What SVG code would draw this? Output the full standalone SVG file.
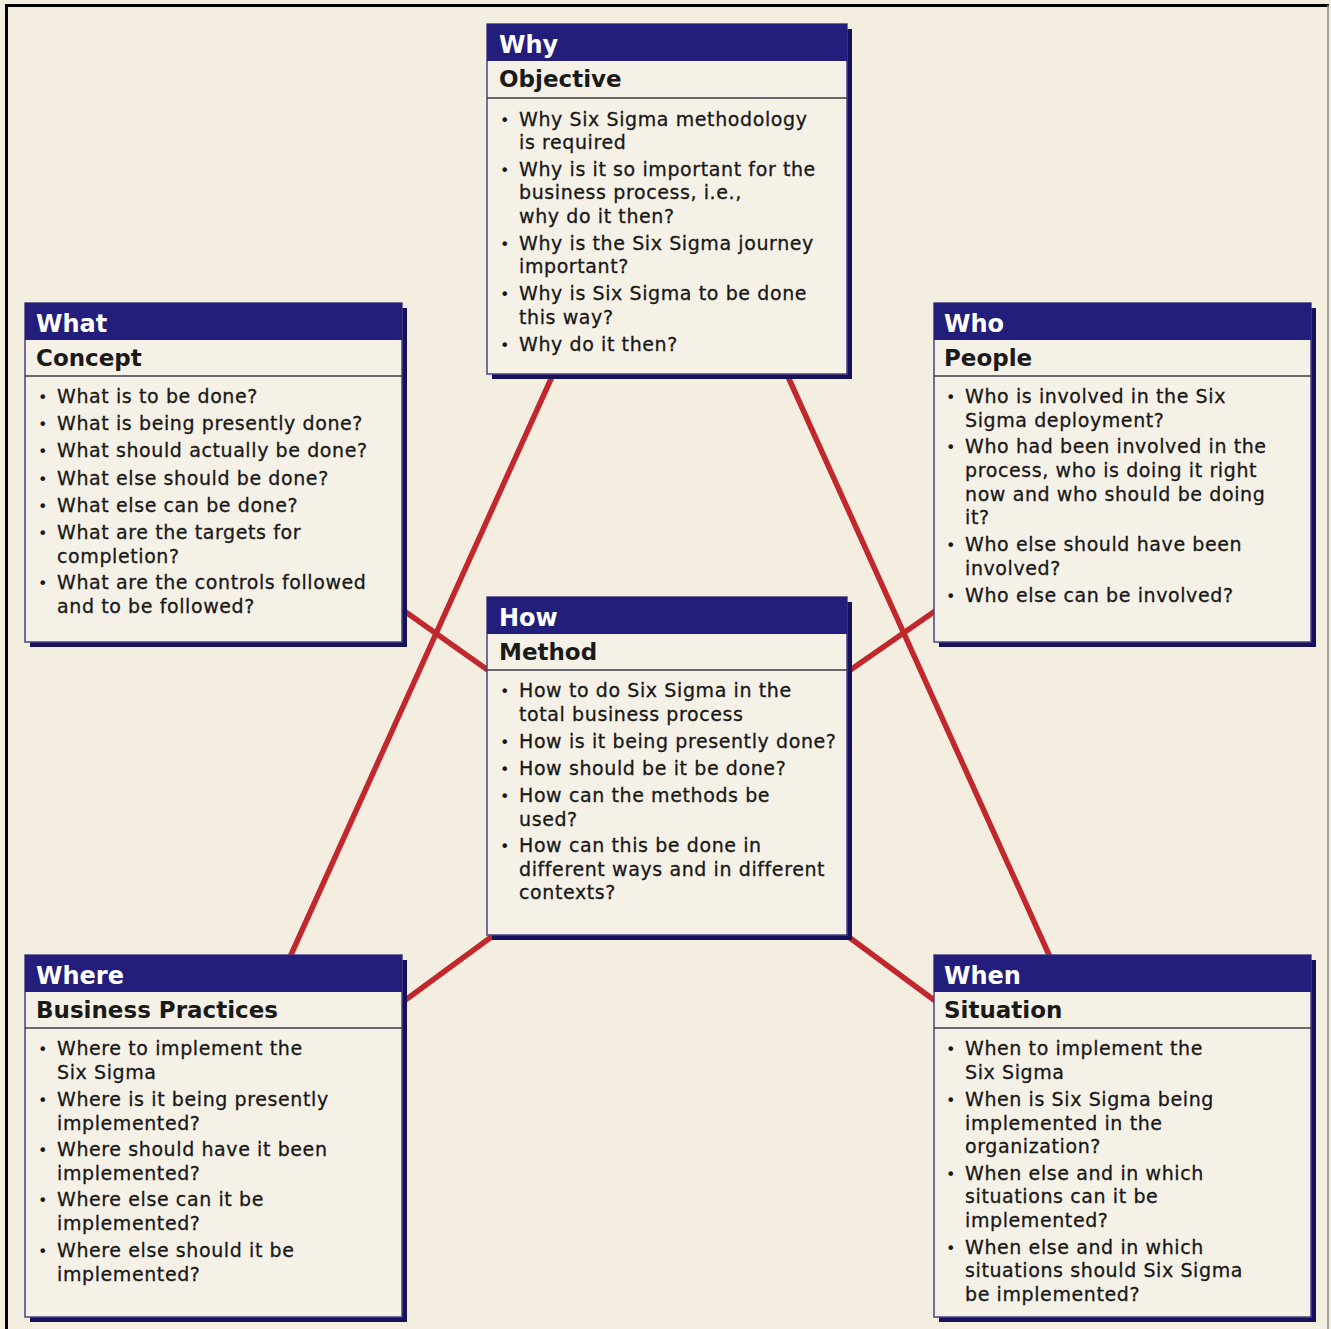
<svg xmlns="http://www.w3.org/2000/svg" width="1331" height="1329" viewBox="0 0 1331 1329">
<style>
.bg{fill:#f4eee1}
.shadow{fill:#15115a}
.box{fill:#f6f1e6;stroke:#4a4282;stroke-width:1.5}
.hdr{fill:#231d7c}
.sep{stroke:#3a3a48;stroke-width:1.5}
.h1{font-family:"DejaVu Sans",Verdana,sans-serif;font-weight:bold;font-size:24px;fill:#ffffff}
.h2{font-family:"DejaVu Sans",Verdana,sans-serif;font-weight:bold;font-size:23px;fill:#1a1a1a}
.t{font-family:"DejaVu Sans",Verdana,sans-serif;font-size:19px;letter-spacing:0.6px;fill:#181818;stroke:#181818;stroke-width:0.3}
.b{font-family:"DejaVu Sans",Verdana,sans-serif;font-size:16px;fill:#181818}
.link{stroke:#c1282d;stroke-width:5.5;fill:none}
</style>
<rect class="bg" x="0" y="0" width="1331" height="1329"/>
<path d="M6.5,1329 V5.5 H1329" fill="none" stroke="#000" stroke-width="3"/>
<line x1="1328" y1="5" x2="1328" y2="1329" stroke="#8a8a8a" stroke-width="1.5"/>

<g id="connectors">
<line class="link" x1="555" y1="370" x2="290" y2="957"/>
<line class="link" x1="785" y1="370" x2="1050" y2="957"/>
<line class="link" x1="400" y1="608" x2="492" y2="673"/>
<line class="link" x1="938" y1="609" x2="846" y2="673"/>
<line class="link" x1="400" y1="1004" x2="494" y2="935"/>
<line class="link" x1="846" y1="935" x2="938" y2="1003"/>
</g>

<g id="why">
<rect class="shadow" x="492" y="29" width="360" height="350"/>
<rect class="box" x="487" y="24" width="360" height="350"/>
<rect class="hdr" x="487" y="24" width="360" height="37"/>
<line class="sep" x1="487" y1="98" x2="847" y2="98"/>
<text class="h1" x="499" y="53">Why</text>
<text class="h2" x="499" y="87">Objective</text>
<text class="b" x="500" y="126">•</text><text class="t" x="519" y="126">Why Six Sigma methodology</text>
<text class="t" x="519" y="149">is required</text>
<text class="b" x="500" y="176">•</text><text class="t" x="519" y="176">Why is it so important for the</text>
<text class="t" x="519" y="199">business process, i.e.,</text>
<text class="t" x="519" y="223">why do it then?</text>
<text class="b" x="500" y="250">•</text><text class="t" x="519" y="250">Why is the Six Sigma journey</text>
<text class="t" x="519" y="273">important?</text>
<text class="b" x="500" y="300">•</text><text class="t" x="519" y="300">Why is Six Sigma to be done</text>
<text class="t" x="519" y="324">this way?</text>
<text class="b" x="500" y="351">•</text><text class="t" x="519" y="351">Why do it then?</text>
</g>

<g id="what">
<rect class="shadow" x="30" y="308" width="377" height="339"/>
<rect class="box" x="25" y="303" width="377" height="339"/>
<rect class="hdr" x="25" y="303" width="377" height="37"/>
<line class="sep" x1="25" y1="376" x2="402" y2="376"/>
<text class="h1" x="36" y="332">What</text>
<text class="h2" x="36" y="366">Concept</text>
<text class="b" x="38" y="403">•</text><text class="t" x="57" y="403">What is to be done?</text>
<text class="b" x="38" y="430">•</text><text class="t" x="57" y="430">What is being presently done?</text>
<text class="b" x="38" y="457">•</text><text class="t" x="57" y="457">What should actually be done?</text>
<text class="b" x="38" y="485">•</text><text class="t" x="57" y="485">What else should be done?</text>
<text class="b" x="38" y="512">•</text><text class="t" x="57" y="512">What else can be done?</text>
<text class="b" x="38" y="539">•</text><text class="t" x="57" y="539">What are the targets for</text>
<text class="t" x="57" y="563">completion?</text>
<text class="b" x="38" y="589">•</text><text class="t" x="57" y="589">What are the controls followed</text>
<text class="t" x="57" y="613">and to be followed?</text>
</g>

<g id="who">
<rect class="shadow" x="939" y="308" width="377" height="339"/>
<rect class="box" x="934" y="303" width="377" height="339"/>
<rect class="hdr" x="934" y="303" width="377" height="37"/>
<line class="sep" x1="934" y1="376" x2="1311" y2="376"/>
<text class="h1" x="944" y="332">Who</text>
<text class="h2" x="944" y="366">People</text>
<text class="b" x="946" y="403">•</text><text class="t" x="965" y="403">Who is involved in the Six</text>
<text class="t" x="965" y="427">Sigma deployment?</text>
<text class="b" x="946" y="453">•</text><text class="t" x="965" y="453">Who had been involved in the</text>
<text class="t" x="965" y="477">process, who is doing it right</text>
<text class="t" x="965" y="501">now and who should be doing</text>
<text class="t" x="965" y="524">it?</text>
<text class="b" x="946" y="551">•</text><text class="t" x="965" y="551">Who else should have been</text>
<text class="t" x="965" y="575">involved?</text>
<text class="b" x="946" y="602">•</text><text class="t" x="965" y="602">Who else can be involved?</text>
</g>

<g id="how">
<rect class="shadow" x="492" y="602" width="360" height="338"/>
<rect class="box" x="487" y="597" width="360" height="338"/>
<rect class="hdr" x="487" y="597" width="360" height="37"/>
<line class="sep" x1="487" y1="670" x2="847" y2="670"/>
<text class="h1" x="499" y="626">How</text>
<text class="h2" x="499" y="660">Method</text>
<text class="b" x="500" y="697">•</text><text class="t" x="519" y="697">How to do Six Sigma in the</text>
<text class="t" x="519" y="721">total business process</text>
<text class="b" x="500" y="748">•</text><text class="t" x="519" y="748">How is it being presently done?</text>
<text class="b" x="500" y="775">•</text><text class="t" x="519" y="775">How should be it be done?</text>
<text class="b" x="500" y="802">•</text><text class="t" x="519" y="802">How can the methods be</text>
<text class="t" x="519" y="826">used?</text>
<text class="b" x="500" y="852">•</text><text class="t" x="519" y="852">How can this be done in</text>
<text class="t" x="519" y="876">different ways and in different</text>
<text class="t" x="519" y="899">contexts?</text>
</g>

<g id="where">
<rect class="shadow" x="30" y="960" width="377" height="362"/>
<rect class="box" x="25" y="955" width="377" height="362"/>
<rect class="hdr" x="25" y="955" width="377" height="37"/>
<line class="sep" x1="25" y1="1028" x2="402" y2="1028"/>
<text class="h1" x="36" y="984">Where</text>
<text class="h2" x="36" y="1018">Business Practices</text>
<text class="b" x="38" y="1055">•</text><text class="t" x="57" y="1055">Where to implement the</text>
<text class="t" x="57" y="1079">Six Sigma</text>
<text class="b" x="38" y="1106">•</text><text class="t" x="57" y="1106">Where is it being presently</text>
<text class="t" x="57" y="1130">implemented?</text>
<text class="b" x="38" y="1156">•</text><text class="t" x="57" y="1156">Where should have it been</text>
<text class="t" x="57" y="1180">implemented?</text>
<text class="b" x="38" y="1206">•</text><text class="t" x="57" y="1206">Where else can it be</text>
<text class="t" x="57" y="1230">implemented?</text>
<text class="b" x="38" y="1257">•</text><text class="t" x="57" y="1257">Where else should it be</text>
<text class="t" x="57" y="1281">implemented?</text>
</g>

<g id="when">
<rect class="shadow" x="939" y="960" width="377" height="362"/>
<rect class="box" x="934" y="955" width="377" height="362"/>
<rect class="hdr" x="934" y="955" width="377" height="37"/>
<line class="sep" x1="934" y1="1028" x2="1311" y2="1028"/>
<text class="h1" x="944" y="984">When</text>
<text class="h2" x="944" y="1018">Situation</text>
<text class="b" x="946" y="1055">•</text><text class="t" x="965" y="1055">When to implement the</text>
<text class="t" x="965" y="1079">Six Sigma</text>
<text class="b" x="946" y="1106">•</text><text class="t" x="965" y="1106">When is Six Sigma being</text>
<text class="t" x="965" y="1130">implemented in the</text>
<text class="t" x="965" y="1153">organization?</text>
<text class="b" x="946" y="1180">•</text><text class="t" x="965" y="1180">When else and in which</text>
<text class="t" x="965" y="1203">situations can it be</text>
<text class="t" x="965" y="1227">implemented?</text>
<text class="b" x="946" y="1254">•</text><text class="t" x="965" y="1254">When else and in which</text>
<text class="t" x="965" y="1277">situations should Six Sigma</text>
<text class="t" x="965" y="1301">be implemented?</text>
</g>
</svg>
